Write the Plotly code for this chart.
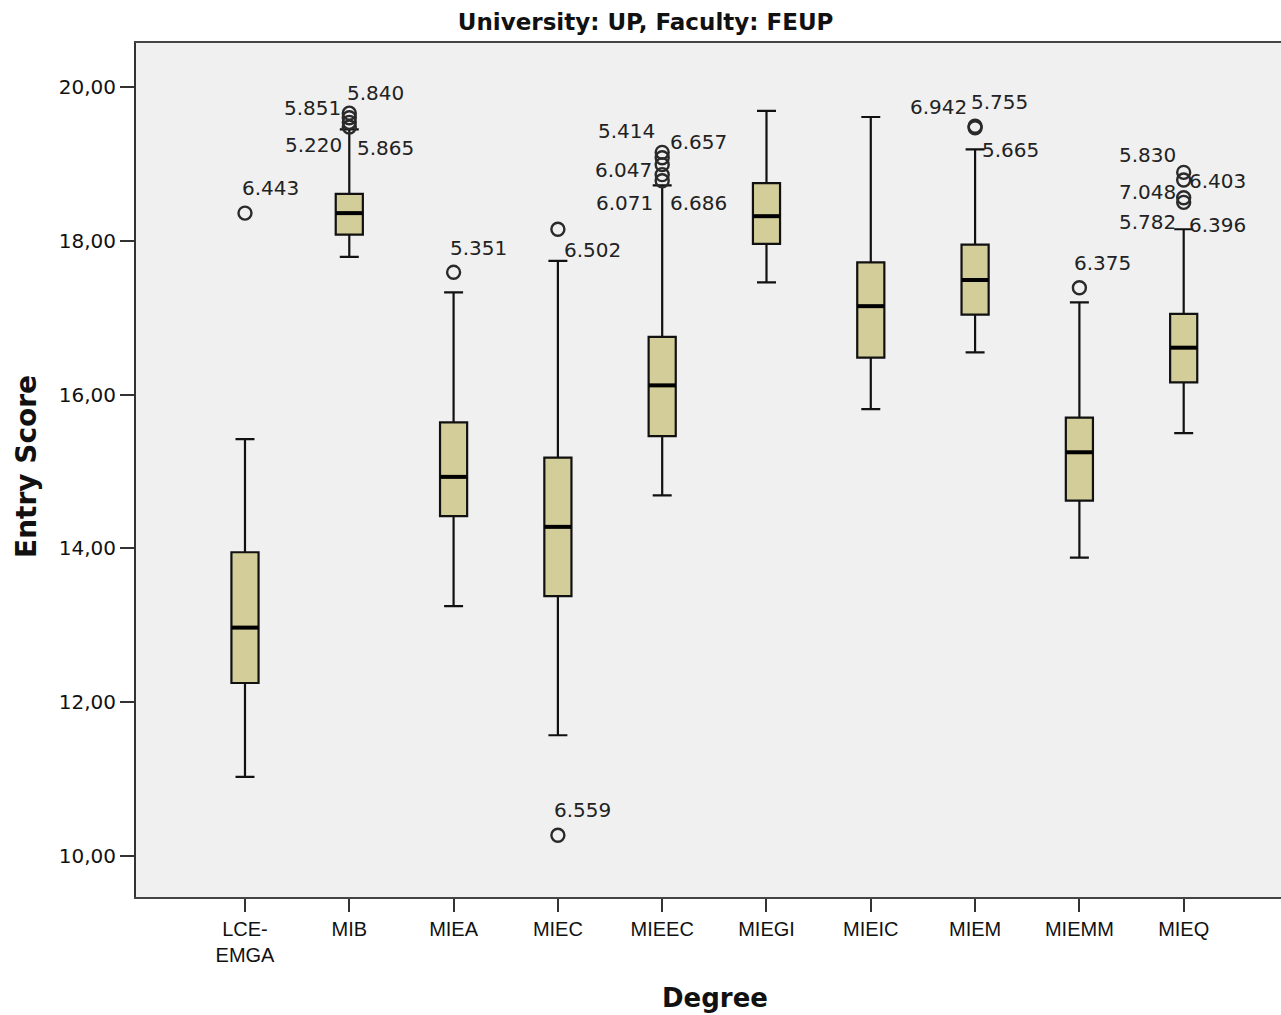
import plotly.graph_objects as go

# ---------------- data ----------------
categories = ["LCE-EMGA", "MIB", "MIEA", "MIEC", "MIEEC", "MIEGI", "MIEIC", "MIEM", "MIEMM", "MIEQ"]
tick_text = ["LCE-<br>EMGA", "MIB", "MIEA", "MIEC", "MIEEC", "MIEGI", "MIEIC", "MIEM", "MIEMM", "MIEQ"]

lower_fence = [11.03, 17.79, 13.25, 11.57, 14.69, 17.46, 15.81, 16.55, 13.88, 15.50]
q1 = [12.25, 18.08, 14.42, 13.38, 15.46, 17.96, 16.48, 17.04, 14.62, 16.16]
median = [12.97, 18.36, 14.93, 14.28, 16.12, 18.32, 17.15, 17.49, 15.25, 16.61]
q3 = [13.95, 18.61, 15.64, 15.18, 16.75, 18.75, 17.72, 17.95, 15.70, 17.05]
upper_fence = [15.42, 19.45, 17.33, 17.74, 18.72, 19.69, 19.61, 19.19, 17.20, 18.15]

outlier_cat = ["LCE-EMGA", "MIB", "MIB", "MIB", "MIB", "MIEA", "MIEC", "MIEC",
               "MIEEC", "MIEEC", "MIEEC", "MIEEC", "MIEEC", "MIEM", "MIEM", "MIEMM",
               "MIEQ", "MIEQ", "MIEQ", "MIEQ"]
outlier_val = [18.36, 19.66, 19.60, 19.54, 19.48, 17.59, 18.15, 10.27,
               19.15, 19.08, 18.99, 18.86, 18.78, 19.49, 19.47, 17.39,
               18.89, 18.79, 18.56, 18.50]

# case labels of outliers (SPSS case numbers)
label_text = ["6.443", "5.851", "5.840", "5.220", "5.865", "5.351", "6.502", "6.559",
              "5.414", "6.657", "6.047", "6.071", "6.686", "6.942", "5.755", "5.665",
              "6.375", "5.830", "6.403", "7.048", "5.782", "6.396"]
label_cat = ["LCE-EMGA", "MIB", "MIB", "MIB", "MIB", "MIEA", "MIEC", "MIEC",
             "MIEEC", "MIEEC", "MIEEC", "MIEEC", "MIEEC", "MIEM", "MIEM", "MIEM",
             "MIEMM", "MIEQ", "MIEQ", "MIEQ", "MIEQ", "MIEQ"]
label_y = [18.69, 19.73, 19.92, 19.25, 19.21, 17.91, 17.88, 10.60,
           19.43, 19.28, 18.92, 18.49, 18.49, 19.74, 19.80, 19.18,
           17.71, 19.12, 18.78, 18.63, 18.24, 18.21]
label_dx = [26, -37, 26, -36, 36, 25, 35, 25,
            -36, 36, -39, -38, 36, -37, 24, 35,
            23, -36, 34, -36, -36, 34]

y_tick_vals = [10, 12, 14, 16, 18, 20]
y_tick_text = ["10,00", "12,00", "14,00", "16,00", "18,00", "20,00"]

# ---------------- figure ----------------
BOX_FILL = "rgb(211,206,153)"
INK = "#111111"

fig = go.Figure()

fig.add_trace(go.Box(
    x=categories, q1=q1, median=median, q3=q3,
    lowerfence=lower_fence, upperfence=upper_fence,
    width=0.26, whiskerwidth=0.7,
    fillcolor=BOX_FILL, line=dict(color="#111111", width=2.2),
    boxpoints=False, showlegend=False, hoverinfo="skip",
))

# thick median line
fig.add_trace(go.Scatter(
    x=categories, y=median, mode="markers",
    marker=dict(symbol="line-ew", size=19, color="black",
                line=dict(color="black", width=4)),
    showlegend=False, hoverinfo="skip",
))

# outliers
fig.add_trace(go.Scatter(
    x=outlier_cat, y=outlier_val, mode="markers",
    marker=dict(symbol="circle-open", size=13, color="#2a2a2a",
                line=dict(color="#2a2a2a", width=2.4)),
    showlegend=False, hoverinfo="skip",
))

for t, c, yv, dx in zip(label_text, label_cat, label_y, label_dx):
    fig.add_annotation(x=c, y=yv, xref="x", yref="y", text=t, showarrow=False,
                       xshift=dx, xanchor="center", yanchor="middle",
                       font=dict(family="DejaVu Sans", size=20, color="#222222"))

# axis titles as annotations
fig.add_annotation(x=0.5057, y=-0.1183, xref="paper", yref="paper", text="<b>Degree</b>",
                   showarrow=False, xanchor="center", yanchor="middle",
                   font=dict(family="DejaVu Sans", size=26, color=INK))
fig.add_annotation(x=-0.0952, y=0.5047, xref="paper", yref="paper", text="<b>Entry Score</b>",
                   showarrow=False, xanchor="center", yanchor="middle", textangle=-90,
                   font=dict(family="DejaVu Sans", size=28, color=INK))

fig.update_layout(
    width=1281, height=1015,
    margin=dict(l=136, r=0, t=43, b=118, pad=0),
    paper_bgcolor="white", plot_bgcolor="#F0F0F0",
    title=dict(text="<b>University: UP, Faculty: FEUP</b>", x=0.504, xref="container",
               y=1 - 22 / 1015, yref="container", xanchor="center", yanchor="middle",
               font=dict(family="DejaVu Sans", size=23, color=INK)),
    xaxis=dict(type="category", range=[-1.045, 9.933],
               tickmode="array", tickvals=categories, ticktext=tick_text,
               ticks="outside", ticklen=13, tickwidth=2, tickcolor="#333",
               showgrid=False, zeroline=False,
               showline=True, linecolor="#444", linewidth=2, mirror=True,
               tickfont=dict(family="Liberation Sans", size=20, color=INK)),
    yaxis=dict(range=[9.467, 20.572], tickmode="array",
               tickvals=y_tick_vals, ticktext=y_tick_text,
               ticks="outside", ticklen=14, tickwidth=2, tickcolor="#333",
               showgrid=False, zeroline=False,
               showline=True, linecolor="#333", linewidth=2, mirror=False,
               tickfont=dict(family="DejaVu Sans", size=20, color=INK)),
)

fig.write_html("out.html")
